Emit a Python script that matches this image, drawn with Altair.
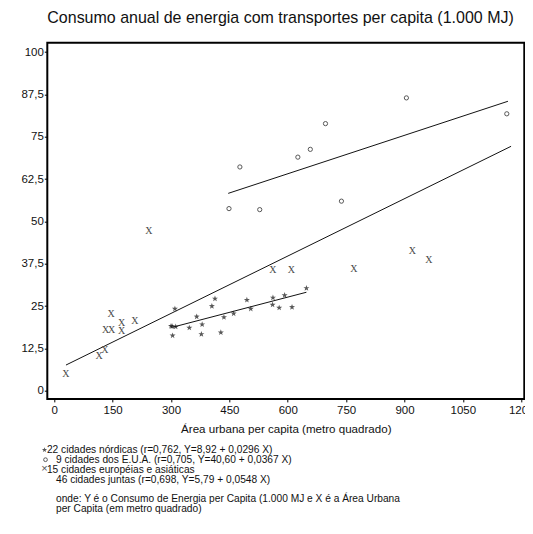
import altair as alt
import pandas as pd

FONT = "Liberation Sans"

# ---- data ----
nordic_x = [310, 300, 303, 312, 304, 347, 366, 380, 378, 405, 413, 428, 436, 461, 495, 505, 562, 561, 578, 592, 611, 648]
nordic_y = [24.2, 19.1, 19.0, 18.9, 16.3, 18.6, 21.9, 19.6, 16.7, 25.0, 27.2, 17.2, 21.7, 22.8, 26.8, 24.2, 27.5, 25.4, 24.5, 28.2, 24.7, 30.3]

usa_x = [905, 1163, 697, 658, 626, 477, 738, 449, 528]
usa_y = [86.5, 81.8, 78.9, 71.3, 69.0, 66.1, 56.0, 53.8, 53.5]

euas_x = [30, 115, 130, 146, 132, 147, 173, 173, 207, 243, 562, 609, 770, 920, 963]
euas_y = [5.0, 10.2, 12.1, 22.7, 17.8, 17.8, 20.1, 17.6, 20.6, 47.3, 35.8, 35.8, 36.0, 41.2, 38.6]

# regression line end points
line_all_x = [30, 1174]
line_all_y = [7.6, 72.2]
line_nordic_x = [305, 648]
line_nordic_y = [18.8, 29.1]
line_usa_x = [447, 1166]
line_usa_y = [58.3, 85.5]

x_ticks = [0, 150, 300, 450, 600, 750, 900, 1050, 1200]
y_ticks = [0, 12.5, 25, 37.5, 50, 62.5, 75, 87.5, 100]

title_text = "Consumo anual de energia com transportes per capita (1.000 MJ)"
x_title = "Área urbana per capita (metro quadrado)"
note_lines = [
    "22 cidades nórdicas (r=0,762, Y=8,92 + 0,0296 X)",
    "9 cidades dos E.U.A. (r=0,705, Y=40,60 + 0,0367 X)",
    "15 cidades européias e asiáticas",
    "46 cidades juntas (r=0,698, Y=5,79 + 0,0548 X)",
    "onde: Y é o Consumo de Energia per Capita (1.000 MJ e X é a Área Urbana",
    "per Capita (em metro quadrado)",
]
note_rows = [0, 1, 2, 3, 5, 6]
note_indent = [False, True, False, True, True, True]

# five-pointed star glyph (unit symbol path)
STAR = ("M0,-1L0.235,-0.324L0.951,-0.309L0.38,0.124L0.588,0.809L0,0.4"
        "L-0.588,0.809L-0.38,0.124L-0.951,-0.309L-0.235,-0.324Z")

nordic = pd.DataFrame({"px": nordic_x, "py": nordic_y})
usa = pd.DataFrame({"px": usa_x, "py": usa_y})
euas = pd.DataFrame({"px": euas_x, "py": euas_y})

x_scale = alt.Scale(domain=[-18, 1208], nice=False, zero=False)
y_scale = alt.Scale(domain=[-2.4, 102.8], nice=False, zero=False)

x_axis = alt.Axis(
    values=x_ticks, title=x_title, grid=False, domain=False, format="d",
    tickSize=3, tickColor="black",
    labelFont=FONT, labelFontSize=11.5, labelColor="#111", labelPadding=3,
    titleFont=FONT, titleFontSize=11.6, titleFontWeight="normal",
    titleColor="#111", titlePadding=7,
)
y_axis = alt.Axis(
    values=y_ticks, title=None, grid=False, domain=False,
    tickSize=3, tickColor="black",
    labelFont=FONT, labelFontSize=11.5, labelColor="#111", labelPadding=1,
    labelExpr="replace(toString(datum.value), '.', ',')",
)

X = alt.X("px:Q", scale=x_scale, axis=x_axis)
Y = alt.Y("py:Q", scale=y_scale, axis=y_axis)


def line_chart(xs, ys):
    df = pd.DataFrame({"px": xs, "py": ys})
    return alt.Chart(df).mark_line(color="#111", strokeWidth=1).encode(x=X, y=Y)


star_layer = alt.Chart(nordic).mark_point(
    shape=STAR, filled=True, color="#111", size=40
).encode(x=X, y=Y)
circle_layer = alt.Chart(usa).mark_point(
    shape="circle", filled=False, color="#111", size=18, strokeWidth=1
).encode(x=X, y=Y)
x_layer = alt.Chart(euas).mark_text(
    text="X", font="Liberation Serif", fontSize=10, color="#4a4a4a", baseline="middle", align="center"
).encode(x=X, y=Y)

one = pd.DataFrame({"k": [0]})
LINE0 = 410.8   # baseline of first note line, px below plot top
LSTEP = 9.8
note_layers = []
for txt, row, ind in zip(note_lines, note_rows, note_indent):
    note_layers.append(
        alt.Chart(one).mark_text(
            text=txt, font=FONT, fontSize=10.2, color="#111", align="left",
            baseline="alphabetic",
        ).encode(x=alt.value(8.7 if ind else -0.4), y=alt.value(LINE0 + LSTEP * row))
    )
leg_star = alt.Chart(one).mark_point(
    shape=STAR, filled=True, color="#111", size=30
).encode(x=alt.value(-2.8), y=alt.value(LINE0 - 3.6))
leg_circle = alt.Chart(one).mark_point(
    shape="circle", filled=False, color="#111", size=14, strokeWidth=1
).encode(x=alt.value(-1.8), y=alt.value(LINE0 - 3.6 + LSTEP))
leg_x = alt.Chart(one).mark_text(
    text="×", font=FONT, fontSize=11, color="#555", align="center", baseline="middle"
).encode(x=alt.value(-2.8), y=alt.value(LINE0 - 3.6 + 2 * LSTEP))

chart = alt.layer(
    line_chart(line_all_x, line_all_y),
    line_chart(line_nordic_x, line_nordic_y),
    line_chart(line_usa_x, line_usa_y),
    star_layer, circle_layer, x_layer,
    *note_layers, leg_star, leg_circle, leg_x,
).properties(
    width=477,
    height=356.2,
    autosize=alt.AutoSizeParams(type="none"),
    padding={"left": 39.3, "top": 34.7, "right": 0.5, "bottom": 121},
    background="white",
    title=alt.TitleParams(
        text=title_text, font=FONT, fontSize=16, fontWeight="normal",
        color="#111", anchor="start", frame="group", offset=17,
    ),
).configure_view(stroke="black", strokeWidth=2)

chart.save("out.html", embed_options={"renderer": "svg", "actions": False})
